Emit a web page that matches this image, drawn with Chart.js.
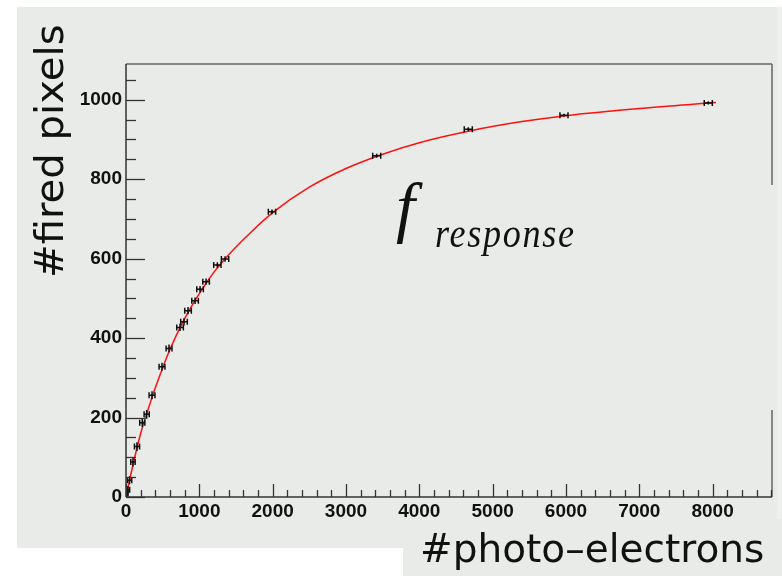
<!DOCTYPE html>
<html>
<head>
<meta charset="utf-8">
<script src="https://cdn.jsdelivr.net/npm/chart.js@4.4.1/dist/chart.umd.min.js"></script>
<style>
  html, body { margin: 0; padding: 0; background: #fff; }
  body { position: relative; width: 782px; height: 576px; overflow: hidden; }
  #panel { position: absolute; left: 17px; top: 7px; width: 760px; height: 541px; background: #e8ebe8; }
  #edge { position: absolute; left: 777px; top: 7px; width: 5px; height: 512px; background: #eef0ee; }
  #xbox { position: absolute; left: 403px; top: 519px; width: 379px; height: 57px; background: #e8ebe8; }
  #chart { position: absolute; left: 0; top: 0; }
  .ttl { position: absolute; font-family: "DejaVu Sans", sans-serif; font-size: 39px; line-height: 39px; color: #111; white-space: nowrap; }
  #xtitle { left: 420px; top: 529px; }
  #ytitle { left: 30px; top: 278px; transform-origin: 0 0; transform: rotate(-90deg) scaleX(1.03); }
  .fn { position: absolute; font-family: "Liberation Serif", serif; font-style: italic; color: #111; white-space: nowrap; }
  #fbig { left: 396px; top: 173px; font-size: 68px; line-height: 68px; }
  #fsub { left: 435px; top: 212px; font-size: 42px; line-height: 42px; letter-spacing: 2px; transform-origin: 0 0; transform: scaleX(0.86); }
</style>
</head>
<body>
<div id="panel"></div>
<div id="edge"></div>
<div id="xbox"></div>
<canvas id="chart" width="782" height="576"></canvas>
<div class="ttl" id="xtitle">#photo–electrons</div>
<div class="ttl" id="ytitle">#fired pixels</div>
<div class="fn" id="fbig">f</div>
<div class="fn" id="fsub">response</div>
<script>
// số liệu
const photoElectrons = [8, 25, 48, 95, 150, 222, 282, 355, 491, 587, 737, 791, 846, 942, 1010, 1092, 1246, 1351, 1991, 3419, 4668, 5973, 7941];
const firedPixels    = [8, 18, 42, 88, 127, 187, 208, 256, 328, 374, 427, 441, 469, 494, 523, 542, 584, 599, 718, 859, 926, 961, 992];
const peErr          = [20, 25, 30, 30, 35, 35, 35, 40, 40, 40, 45, 45, 45, 45, 45, 45, 50, 50, 50, 55, 55, 55, 55];
const pixErr         = [10, 10, 10, 11, 11, 11, 11, 10, 10, 10, 9, 9, 9, 8, 8, 8, 7, 7, 6, 5, 5, 4, 4];

// đường fit f_response
const fitX = [0, 100, 200, 300, 400, 500, 600, 800, 1000, 1200, 1400, 1700, 2000, 2500, 3000, 3500, 4000, 4700, 5400, 6000, 7000, 8046];
const fitY = [0, 85, 160, 220, 275, 325, 372, 449, 512, 566, 610, 666, 716, 780, 827, 863, 892, 922, 945, 960, 978, 993];

const xTickLabels = [0, 1000, 2000, 3000, 4000, 5000, 6000, 7000, 8000];
const yTickLabels = [0, 200, 400, 600, 800, 1000];

const tickFont = { family: 'Liberation Sans', size: 19, weight: 'bold' };

const rootFrame = {
    id: 'rootFrame',
    afterDatasetsDraw(chart) {
        const { ctx, chartArea: a, scales: { x, y } } = chart;
        ctx.save();
        ctx.beginPath();
        ctx.rect(a.left, a.top, a.right - a.left, a.bottom - a.top);
        ctx.clip();
        ctx.strokeStyle = '#111';
        ctx.lineWidth = 1.5;
        photoElectrons.forEach((v, i) => {
            const px = x.getPixelForValue(v);
            const py = y.getPixelForValue(firedPixels[i]);
            const x1 = x.getPixelForValue(v - peErr[i]);
            const x2 = x.getPixelForValue(v + peErr[i]);
            const y1 = y.getPixelForValue(firedPixels[i] - pixErr[i]);
            const y2 = y.getPixelForValue(firedPixels[i] + pixErr[i]);
            ctx.beginPath();
            ctx.moveTo(x1, py); ctx.lineTo(x2, py);
            ctx.moveTo(x1, py - 3); ctx.lineTo(x1, py + 3);
            ctx.moveTo(x2, py - 3); ctx.lineTo(x2, py + 3);
            ctx.moveTo(px, y1); ctx.lineTo(px, y2);
            ctx.stroke();
        });
        ctx.restore();
    },
    afterDraw(chart) {
        const { ctx, chartArea: a, scales: { x, y } } = chart;
        const seg = (x1, y1, x2, y2) => { ctx.beginPath(); ctx.moveTo(x1, y1); ctx.lineTo(x2, y2); ctx.stroke(); };
        ctx.save();
        ctx.lineWidth = 1.5;
        // khung
        ctx.strokeStyle = '#666';
        seg(a.left, a.top, a.right, a.top);
        seg(a.right, a.top, a.right, 185);
        seg(a.right, 410, a.right, a.bottom);
        // trục
        ctx.strokeStyle = '#333';
        seg(a.left, a.bottom, a.right, a.bottom);
        seg(a.left, a.top, a.left, a.bottom);
        ctx.lineWidth = 1.3;
        for (let v = 0; v <= x.max; v += 200) {
            const px = Math.round(x.getPixelForValue(v)) + 0.5;
            seg(px, a.bottom, px, a.bottom - (v % 1000 === 0 ? 13 : 7));
        }
        for (let v = 0; v <= y.max; v += 50) {
            const py = Math.round(y.getPixelForValue(v)) + 0.5;
            seg(a.left, py, a.left + (v % 200 === 0 ? 19 : 10), py);
        }
        ctx.restore();
    }
};

new Chart(document.getElementById('chart').getContext('2d'), {
    type: 'scatter',
    data: {
        datasets: [
            {
                label: 'data',
                data: photoElectrons.map((v, i) => ({ x: v, y: firedPixels[i] })),
                pointRadius: 1.3,
                pointStyle: 'rect',
                backgroundColor: '#111',
                borderColor: '#111',
                borderWidth: 0
            },
            {
                label: 'f_response',
                data: fitX.map((v, i) => ({ x: v, y: fitY[i] })),
                showLine: true,
                borderColor: '#ff1010',
                borderWidth: 1.5,
                pointRadius: 0,
                cubicInterpolationMode: 'monotone',
                fill: false
            }
        ]
    },
    options: {
        responsive: false,
        animation: false,
        devicePixelRatio: 1,
        layout: { padding: { left: 0, top: 64, right: 10, bottom: 49 } },
        plugins: { legend: { display: false }, tooltip: { enabled: false } },
        scales: {
            x: {
                type: 'linear', min: 0, max: 8810,
                grid: { display: false, drawTicks: false },
                border: { display: false },
                afterBuildTicks: s => { s.ticks = xTickLabels.map(v => ({ value: v })); },
                ticks: {
                    autoSkip: false, maxRotation: 0,
                    padding: 3, color: '#111', font: tickFont,
                    callback: v => String(v)
                },
                afterFit: s => { s.height = 30; }
            },
            y: {
                type: 'linear', min: 0, max: 1090,
                grid: { display: false, drawTicks: false },
                border: { display: false },
                afterBuildTicks: s => { s.ticks = yTickLabels.map(v => ({ value: v })); },
                ticks: {
                    autoSkip: false,
                    padding: 4, color: '#111', font: tickFont,
                    callback: v => String(v)
                },
                afterFit: s => { s.width = 126; }
            }
        }
    },
    plugins: [rootFrame]
});
</script>
</body>
</html>
